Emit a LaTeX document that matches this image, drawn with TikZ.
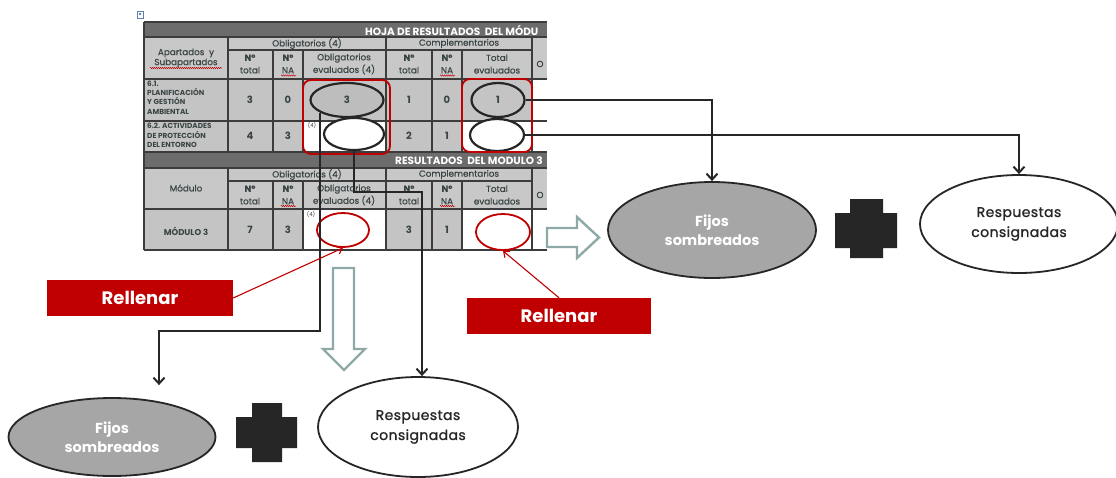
\documentclass[tikz,border=0pt]{standalone}
\usepackage{fontspec}
\setmainfont{Poppins}
\newfontfamily\popmid{Poppins}[FakeBold=0.5]
\newfontfamily\popsemi{Poppins}[FakeBold=1.2, LetterSpace=3]
\usetikzlibrary{arrows.meta,shapes.geometric,decorations.pathmorphing}
\definecolor{ink}{HTML}{262626}
\definecolor{gridc}{HTML}{3C3C3C}
\definecolor{tcol}{HTML}{3A4444}
\definecolor{barc}{HTML}{6C6C6C}
\definecolor{hdrc}{HTML}{C8C8C8}
\definecolor{cellc}{HTML}{C4C4C4}
\definecolor{redc}{HTML}{C00000}
\definecolor{hollow}{HTML}{8FA8A8}
\definecolor{bigg}{HTML}{A6A6A6}
\definecolor{ovalg}{HTML}{BDBDBD}
\definecolor{iconc}{HTML}{5A7FA8}
\tikzset{
  gridline/.style={draw=gridc, line width=1.1pt},
  tbl/.style={font=\popmid\fontsize{8.8}{12.5}\selectfont, text=tcol, inner sep=0pt, align=center},
  num/.style={font=\bfseries\fontsize{10}{11}\selectfont, text=tcol, inner sep=0pt},
  lab/.style={font=\bfseries\fontsize{7.3}{9.4}\selectfont, text=tcol, inner sep=0pt, align=left, anchor=north west},
  barlab/.style={font=\bfseries\fontsize{10.5}{11}\selectfont, text=white, inner sep=0pt, anchor=west},
  supr/.style={font=\fontsize{5.5}{6}\selectfont, text=tcol, inner sep=0pt},
  oval/.style={ellipse, draw=ink, line width=2.2pt, inner sep=0pt, font=\bfseries\fontsize{10}{11}\selectfont, text=tcol},
  redoval/.style={ellipse, draw=redc, line width=1.8pt, inner sep=0pt},
  redbox/.style={draw=redc, line width=1.8pt, rounded corners=8pt},
  squig/.style={draw=redc, line width=0.5pt, decorate, decoration={snake, amplitude=0.6pt, segment length=2pt}},
  conn/.style={draw=ink, line width=2pt, -{Straight Barb[length=6pt,width=11pt]}},
  callout/.style={draw=redc, line width=1.1pt, -{Straight Barb[length=5pt,width=8pt]}},
  redlabel/.style={fill=redc, text=white, font=\bfseries\fontsize{18}{20}\selectfont, minimum width=186pt, minimum height=36pt, inner sep=0pt},
  greyoval/.style={ellipse, draw=ink, line width=1.8pt, fill=bigg, text=white, font=\bfseries\fontsize{14.5}{19.5}\selectfont, align=center, inner sep=0pt},
  whiteoval/.style={ellipse, draw=ink, line width=1.8pt, fill=white, text=ink, font=\popsemi\fontsize{14}{20}\selectfont, align=center, inner sep=0pt},
  hollowarrow/.style={draw=hollow, line width=2.4pt, fill=white, line join=miter},
  plusc/.style={fill=ink}
}
\begin{document}
\begin{tikzpicture}[x=1pt,y=-1pt]
\useasboundingbox (0,0) rectangle (1116,477);
\fill[white] (0,0) rectangle (1116,477);
% small image icon
\draw[draw=iconc, fill=white, line width=0.7pt] (137,11) rectangle (143.5,18);
\fill[iconc] (138.5,12.5) rectangle (140.5,14.5);
% ---------- table fills ----------
\fill[hdrc] (144,37) rectangle (547,79);
\fill[cellc] (144,79) rectangle (532,152);
\fill[white] (303,121) rectangle (386,152);
\fill[white] (462,121) rectangle (532,152);
\fill[white] (532,79) rectangle (547,152);
\fill[hdrc] (144,168) rectangle (547,209);
\fill[cellc] (144,209) rectangle (532,250);
\fill[white] (303,209) rectangle (386,250);
\fill[white] (462,209) rectangle (532,250);
\fill[white] (532,209) rectangle (547,250);
\fill[barc] (144,22) rectangle (547,37);
\fill[barc] (144,152) rectangle (547,168);
% ---------- grid ----------
\foreach \y in {22,37,79,121,152,168,209,250} \draw[gridline] (144,\y) -- (547,\y);
\foreach \y in {50,181} \draw[gridline] (228,\y) -- (532,\y);
\draw[gridline] (144,22) -- (144,250);
\foreach \x in {228,386,532} {\draw[gridline] (\x,37) -- (\x,152); \draw[gridline] (\x,168) -- (\x,250);}
\foreach \x in {273,303,432,462} {\draw[gridline] (\x,50) -- (\x,152); \draw[gridline] (\x,181) -- (\x,250);}
% ---------- bar texts (clipped at the table edge) ----------
\begin{scope}
\clip (144,22) rectangle (547,250);
\node[barlab] (hb1) at (365,30) {HOJA DE RESULTADOS\ \ DEL MÓDU};
\node[barlab] (hb2) at (395,160.5) {RESULTADOS\ \ DEL MODULO 3};
\end{scope}
% ---------- header texts, section 1 ----------
\node[tbl] (ob1) at (307,43.5) {Obligatorios (4)};
\node[tbl] (co1) at (459,43.5) {Complementarios};
\node[tbl] (oo1) at (540,64) {O};
\node[tbl, font=\popmid\fontsize{8.8}{10}\selectfont] (ap1) at (186,58) {Apartados\ \ y\\Subapartados};
\node[tbl] (nt1) at (250,64) {\bfseries Nº\\total};
\node[tbl] (na1) at (288,64) {\bfseries Nº\\NA};
\node[tbl] (oe1) at (344,64) {Obligatorios\\evaluados (4)};
\node[tbl] (nt2) at (409,64) {\bfseries Nº\\total};
\node[tbl] (na2) at (447,64) {\bfseries Nº\\NA};
\node[tbl] (te1) at (497,64) {Total\\evaluados};
\draw[squig] (150,68) -- (222,68);
\draw[squig] (281,75.5) -- (296,75.5);
\draw[squig] (440,75.5) -- (455,75.5);
% row 1
\node[lab] (l61) at (147,80.5) {6.1.\\PLANIFICACIÓN\\Y GESTIÓN\\AMBIENTAL};
\node[num] (r1a) at (250,100) {3};
\node[num] (r1b) at (288,100) {0};
\node[num] (r1c) at (409,100) {1};
\node[num] (r1d) at (447,100) {0};
% row 2
\node[lab] (l62) at (147,123) {6.2. ACTIVIDADES\\DE PROTECCIÓN\\DEL ENTORNO};
\node[num] (r2a) at (250,136) {4};
\node[num] (r2b) at (288,136) {3};
\node[num] (r2c) at (409,136) {2};
\node[num] (r2d) at (447,136) {1};
\node[supr] (s2) at (312,125) {(4)};
% ---------- section 2 ----------
\node[tbl] (ob2) at (307,174.5) {Obligatorios (4)};
\node[tbl] (co2) at (459,174.5) {Complementarios};
\node[tbl] (oo2) at (540,195) {O};
\node[tbl] (mo1) at (186,188) {Módulo};
\node[tbl] (nt3) at (250,195) {\bfseries Nº\\total};
\node[tbl] (na3) at (288,195) {\bfseries Nº\\NA};
\node[tbl] (oe2) at (344,195) {Obligatorios\\evaluados (4)};
\node[tbl] (nt4) at (409,195) {\bfseries Nº\\total};
\node[tbl] (na4) at (447,195) {\bfseries Nº\\NA};
\node[tbl] (te2) at (497,195) {Total\\evaluados};
\draw[squig] (281,206) -- (296,206);
\draw[squig] (440,206) -- (455,206);
\node[tbl, font=\bfseries\fontsize{8.5}{9}\selectfont] (m3) at (186,231) {MÓDULO 3};
\node[num] (r3a) at (250,230) {7};
\node[num] (r3b) at (288,230) {3};
\node[num] (r3c) at (409,230) {3};
\node[num] (r3d) at (447,230) {1};
\node[supr] (s3) at (311,214) {(4)};
% ---------- ovals in the table ----------
\node[oval, fill=ovalg, minimum width=73pt, minimum height=34pt] (e3) at (347,100) {3};
\node[oval, fill=white, minimum width=60pt, minimum height=32pt] (e4) at (354,134) {};
\node[oval, fill=cellc, minimum width=53pt, minimum height=34pt] (e1) at (498,100) {1};
\node[oval, fill=white, minimum width=54pt, minimum height=32pt] (e2) at (497,135) {};
\draw[redbox] (303,80) rectangle (390,154);
\draw[redbox] (462,79) rectangle (532,152);
\node[redoval, minimum width=52pt, minimum height=34pt] (m4) at (343,230) {};
\node[redoval, minimum width=54pt, minimum height=36pt] (m7) at (503,232) {};
% ---------- result ovals and plus signs ----------
\node[greyoval, minimum width=208pt, minimum height=96pt] (fr) at (712,230) {Fijos\\sombreados};
\node[whiteoval, minimum width=198pt, minimum height=98pt] (rr) at (1019,224) {Respuestas\\consignadas};
\node[greyoval, minimum width=207pt, minimum height=78pt] (fb) at (112,437) {Fijos\\sombreados};
\node[whiteoval, minimum width=200pt, minimum height=100pt] (rb) at (418,427) {Respuestas\\consignadas};
\fill[plusc] (850,199) -- (883,199) -- (883,213) -- (897,213) -- (897,248) -- (883,248) -- (883,258)
  -- (850,258) -- (850,248) -- (835,248) -- (835,213) -- (850,213) -- cycle;
\fill[plusc] (252,403) -- (282,403) -- (282,417) -- (297,417) -- (297,448) -- (282,448) -- (282,462)
  -- (252,462) -- (252,448) -- (236,448) -- (236,417) -- (252,417) -- cycle;
% ---------- hollow arrows ----------
\draw[hollowarrow] (547,228) -- (577,228) -- (577,217) -- (599,237.5) -- (577,258) -- (577,247) -- (547,247) -- cycle;
\draw[hollowarrow] (333,268) -- (354,268) -- (354,349) -- (365,349) -- (344,370) -- (323,349) -- (333,349) -- cycle;
% ---------- connectors ----------
\coordinate (k1) at (159,331);
\coordinate (k2) at (422,192);
\draw[conn] (e3.south west) -- (e3.south west |- k1) -- (k1) -- (k1 |- fb.north) [shorten >=12pt] ;
\draw[conn] (e4.south) |- (k2) -- (k2 |- rb.north);
\draw[conn] (e1.east) -| (fr.north);
\draw[conn] (e2.east) -| (rr.north);
% ---------- callouts ----------
\node[redlabel] (rl1) at (140,298) {Rellenar};
\node[redlabel, minimum width=184pt] (rl2) at (559,316) {Rellenar};
\draw[callout] (rl1.east) -- (m4.south);
\draw[callout] (rl2.north) -- (m7.south);
\end{tikzpicture}
\end{document}
